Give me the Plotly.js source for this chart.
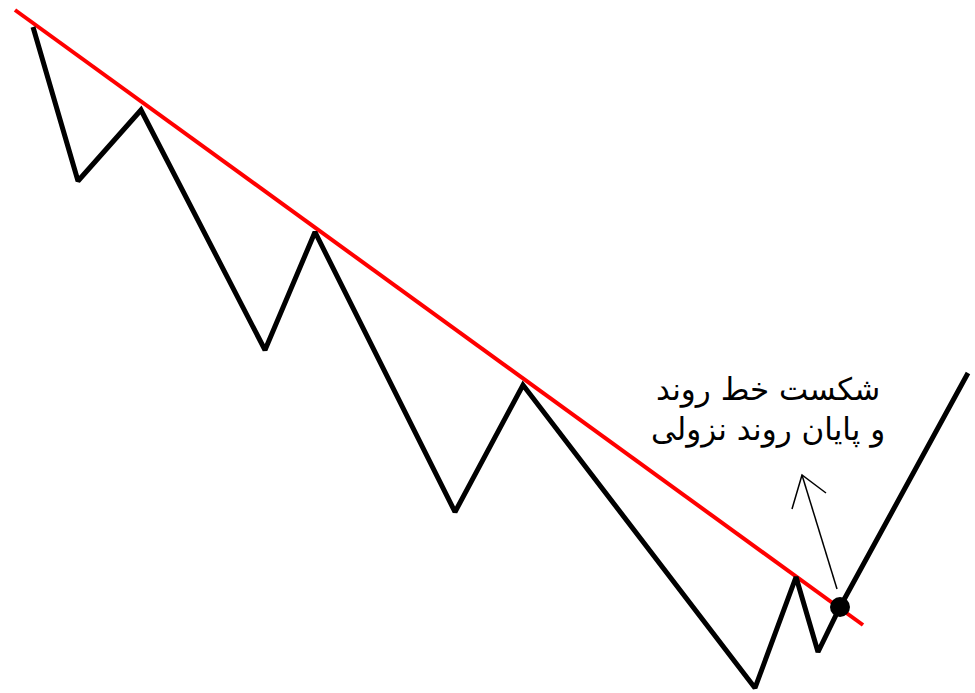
<!DOCTYPE html>
<html>
<head>
<meta charset="utf-8">
<script src="https://cdn.plot.ly/plotly-3.0.1.min.js"></script>
<style>html,body{margin:0;padding:0;background:#fff;}#chart{width:975px;height:693px;}</style>
</head>
<body>
<div id="chart"></div>
<script>
// Price zigzag (screen-like coordinates: y grows downward)
const priceX = [33, 78, 141, 265, 315, 455, 523, 755, 796, 818, 840, 968];
const priceY = [27, 181, 110, 350, 232, 512, 385, 688, 577, 652, 607, 373];
// Downtrend line
const trendX = [15, 863];
const trendY = [10, 625];
// Breakout point
const breakX = [840];
const breakY = [607];
// Arrow (shaft and head)
const arrowX = [837, 802, null, 792, 802, 826];
const arrowY = [589, 475, null, 509, 475, 493];
// Label
const labelLines = ["شکست خط روند", "و پایان روند نزولی"];

const traces = [
  {x: trendX, y: trendY, mode: 'lines', line: {color: '#ff0000', width: 4}, hoverinfo: 'skip'},
  {x: priceX, y: priceY, mode: 'lines', line: {color: '#000000', width: 5, shape: 'linear'}, hoverinfo: 'skip'},
  {x: arrowX, y: arrowY, mode: 'lines', line: {color: '#000000', width: 1.5}, connectgaps: false, hoverinfo: 'skip'},
  {x: breakX, y: breakY, mode: 'markers', marker: {color: '#000000', size: 20}, hoverinfo: 'skip'}
];

const layout = {
  width: 975, height: 693,
  margin: {l: 0, r: 0, t: 0, b: 0},
  paper_bgcolor: '#ffffff', plot_bgcolor: '#ffffff',
  showlegend: false,
  xaxis: {range: [0, 975], visible: false, fixedrange: true},
  yaxis: {range: [693, 0], visible: false, fixedrange: true},
  annotations: [{
    x: 768, y: 409, xref: 'x', yref: 'y',
    text: labelLines.join('<br>'),
    showarrow: false, align: 'center',
    font: {family: 'DejaVu Sans, Noto Sans, sans-serif', size: 31, color: '#000000'}
  }]
};

Plotly.newPlot('chart', traces, layout, {staticPlot: true, displayModeBar: false});
</script>
</body>
</html>
